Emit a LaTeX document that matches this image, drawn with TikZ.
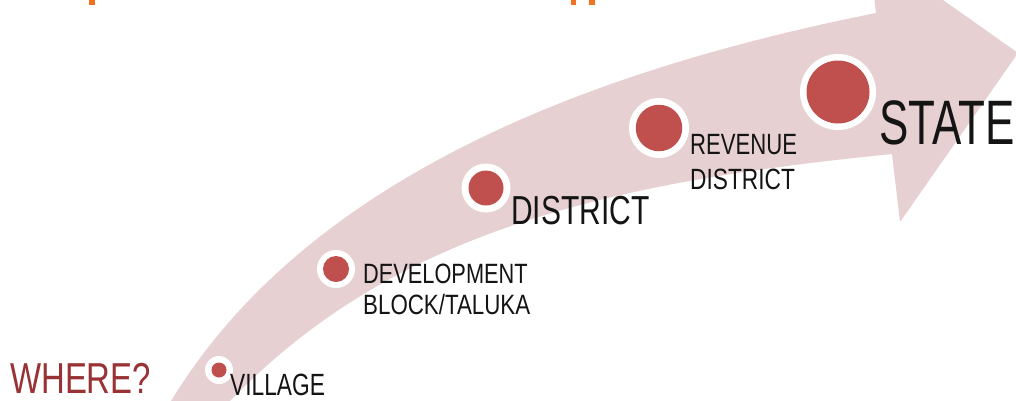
\documentclass[tikz,border=0pt]{standalone}
\usepackage{fontspec}
\setmainfont{Liberation Sans}
\usepackage{graphicx}
\definecolor{arrowpink}{RGB}{231,208,209}
\definecolor{dotred}{RGB}{192,80,77}
\definecolor{whererd}{RGB}{152,50,52}
\definecolor{labelblack}{RGB}{20,20,20}
\definecolor{titleorange}{RGB}{243,112,33}
\tikzset{
  ringout/.style={circle, fill=white, inner sep=0pt},
  dotin/.style={circle, fill=dotred, inner sep=0pt},
  lbl/.style={anchor=base west, inner sep=0pt, text=labelblack},
}
\newcommand{\lbltext}[3]{\fontsize{#1}{#1}\selectfont\scalebox{#2}[1]{#3}}
\begin{document}
\begin{tikzpicture}[x=1pt,y=-1pt]
\useasboundingbox (0,0) rectangle (1016,400);
\clip (0,0) rectangle (1016,400);
\fill[white] (0,0) rectangle (1016,400);
% cut-off title descenders
\fill[titleorange] (89.3,-1) rectangle (94.7,5.3);
\fill[titleorange] (570.7,-1) rectangle (576,5.3);
\fill[titleorange] (589.3,-1) rectangle (594.7,5.3);
% big curved arrow
\fill[arrowpink] (195,440) .. controls (365,236) and (592,184) .. (892,154)
  -- (900,222) -- (1018,53) -- (868,-53) -- (876,13)
  .. controls (576,73) and (290,186) .. (160,420)
  -- cycle;
% circles
\node[ringout, minimum size=28pt] (villagering) at (219,370) {};
\node[dotin, minimum size=15pt] (villagedot) at (villagering) {};
\node[ringout, minimum size=38pt] (devring) at (336,269) {};
\node[dotin, minimum size=26pt] (devdot) at (devring) {};
\node[ringout, minimum size=49pt] (distring) at (486,188) {};
\node[dotin, minimum size=35pt] (distdot) at (distring) {};
\node[ringout, minimum size=60pt] (revring) at (659,128) {};
\node[dotin, minimum size=46.5pt] (revdot) at (revring) {};
\node[ringout, minimum size=76pt] (statering) at (838,92) {};
\node[dotin, minimum size=63pt] (statedot) at (statering) {};
% labels
\node[lbl, text=whererd] (where) at (10,393) {\lbltext{43.3}{0.76}{WHERE?}};
\node[lbl] (village) at (230,395) {\lbltext{30.7}{0.74}{VILLAGE}};
\node[lbl] (devone) at (363,283) {\lbltext{27.9}{0.78}{DEVELOPMENT}};
\node[lbl] (devtwo) at (363,314) {\lbltext{27.9}{0.80}{BLOCK/TALUKA}};
\node[lbl] (district) at (511,224) {\lbltext{40.5}{0.74}{DISTRICT}};
\node[lbl] (revone) at (690,154) {\lbltext{29.3}{0.755}{REVENUE}};
\node[lbl] (revtwo) at (690,189) {\lbltext{29.3}{0.775}{DISTRICT}};
\node[lbl] (state) at (879,144) {\lbltext{62.8}{0.70}{STATE}};
\end{tikzpicture}
\end{document}
